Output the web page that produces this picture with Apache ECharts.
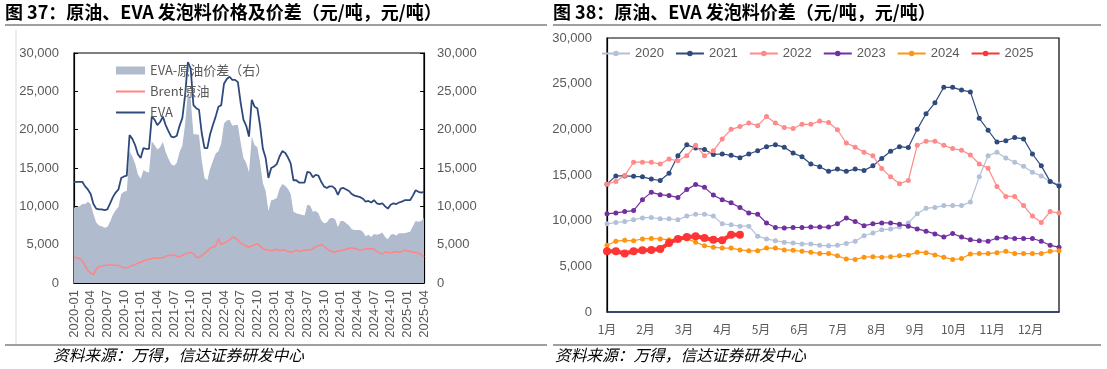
<!DOCTYPE html>
<html><head><meta charset="utf-8">
<script src="https://cdn.jsdelivr.net/npm/echarts@6/dist/echarts.min.js"></script>
<style>html,body{margin:0;padding:0;background:#fff;}#c{width:1107px;height:369px;}</style>
</head><body><div id="c"></div>
<script>
// ---------- Left chart (图 37): semi-monthly points, 2020-01-01 .. 2025-04-16 ----------
const tickLabelsLeft = ['2020-01','2020-04','2020-07','2020-10','2021-01','2021-04','2021-07','2021-10','2022-01','2022-04','2022-07','2022-10','2023-01','2023-04','2023-07','2023-10','2024-01','2024-04','2024-07','2024-10','2025-01','2025-04'];
const evaPrice = [13200,13200,13200,13200,12600,12200,11600,10300,9700,9600,
9600,9500,9600,10400,11200,11800,12200,13700,13900,14000,
19300,18800,18000,16800,16300,17600,17500,17500,21700,21300,
20600,21000,21700,20600,19800,19100,19000,19200,20500,21500,
24500,28800,28000,23200,22800,22600,19500,17600,17600,19400,
20600,21700,23000,23200,26000,26600,26900,26500,26500,26200,
23500,21300,20500,19100,23900,23000,22800,20500,17500,16300,
13700,15000,15200,15500,16500,17200,17000,16400,15600,13400,
13400,13100,13100,13100,14500,14400,13800,14100,14000,13200,
12600,12400,12600,12600,12300,11500,12300,12400,12200,12000,
11600,11400,11300,11200,11000,10600,10700,10500,10800,10400,
10300,10400,10000,9700,10200,10400,10300,10500,10600,10800,
10800,10800,11400,12100,11900,11800,11900];
const brentPrice = [3400,3300,3200,2900,2300,1600,1300,1100,1800,2100,
2200,2300,2300,2400,2300,2300,2300,2100,2000,2000,
2100,2300,2400,2600,2700,2900,3000,3100,3200,3300,
3200,3300,3300,3500,3600,3600,3700,3500,3400,3600,
3800,3900,4000,3800,3400,3300,3600,3900,4200,4500,
4700,4800,5800,5000,5200,5400,5600,6000,5900,5600,
5200,5000,4800,4700,4800,5000,5100,4800,4500,4300,
4300,4200,4300,4400,4200,4300,4300,4100,4000,4100,
4300,4100,4200,4300,4300,4300,4500,4700,4900,5000,
4800,4500,4200,4100,4000,4200,4200,4300,4400,4500,
4600,4500,4400,4300,4300,4500,4400,4500,4400,4100,
3900,3800,4000,4000,3900,4000,4100,4000,4100,4300,
4200,4100,4000,4000,3900,3700,3400];
const spreadValues = [9800,9900,10000,10300,10300,10600,10300,9000,7900,7500,
7400,7200,7300,8000,8900,9500,9900,11600,11900,12000,
17200,16500,15600,14200,13600,14700,14500,14400,18500,18000,
17400,17700,18400,17100,16200,15500,15300,15700,17100,17900,
20700,24900,24000,19400,19400,19300,15900,13700,13400,14900,
15900,16900,17200,18200,20800,21200,21300,20500,20600,20600,
18300,16300,15700,14400,19100,18000,17700,15700,13000,12000,
9400,10800,10900,11100,12300,12900,12700,12300,11600,9300,
9100,9000,8900,8800,10200,10100,9300,9400,9100,8200,
7800,7900,8400,8500,8300,7300,8100,8100,7800,7500,
7000,6900,6900,6900,6700,6100,6300,6000,6400,6300,
6400,6600,6000,5700,6300,6400,6200,6500,6500,6500,
6600,6700,7400,8100,8000,8100,8500];
const dateCats = [];
for (let y = 2020; y <= 2025; y++) for (let m = 1; m <= 12; m++) {
  const mm = (m < 10 ? '0' : '') + m;
  for (const d of ['01', '16']) { if (dateCats.length < evaPrice.length) dateCats.push(y + '-' + mm + '-' + d); }
}

// ---------- Right chart (图 38): weekly points ----------
const monthLabels = ['1月','2月','3月','4月','5月','6月','7月','8月','9月','10月','11月','12月'];
const yearNames = ['2020','2021','2022','2023','2024','2025'];
const y2020 = [9650,9800,9900,10100,10300,10350,10200,10200,10100,10500,10700,10700,10500,9650,9550,9400,9400,8300,8000,7800,7650,7550,7450,7450,7300,7250,7300,7500,7750,8350,8650,9000,9100,9300,9750,10750,11350,11450,11650,11650,11650,12050,14800,17100,17500,16850,16400,15950,15300,14900,14300,13950];
const y2021 = [14000,14900,14900,14850,14800,14550,14400,15200,17100,18300,17950,17800,17250,17300,17150,16900,17300,17650,18100,18300,18050,17400,17000,16200,15900,15400,15650,15400,15650,15500,16000,16800,17600,18100,18000,20000,21700,22900,24600,24600,24300,24100,21200,19900,18600,18750,19100,18950,17300,16000,14300,13800];
const y2022 = [14000,14300,14950,16400,16400,16400,16200,16750,16550,17100,18250,17100,17650,18950,20000,20300,20700,20400,21400,20700,20200,20100,20550,20550,20900,20750,19950,18500,18050,17500,17100,15700,14800,14050,14400,18250,18700,18700,18250,17900,17700,17200,16200,15750,13750,12650,12650,11650,10500,9800,11000,10850];
const y2023 = [10750,10850,11000,11100,12300,13100,12850,12750,12550,13400,13950,13650,12800,12300,11950,11450,10850,10700,9750,9250,9200,9250,9250,9300,9300,9300,9650,10300,9900,9450,9650,9750,9750,9600,9400,9100,8850,8550,8200,8600,8200,7900,7800,7750,8100,8150,8050,8050,8050,7750,7300,7100];
const y2024 = [7300,7750,7850,7800,8000,8050,8000,7900,8000,8000,7650,7250,7100,7000,7000,6800,6700,6700,7000,7000,6800,6750,6650,6550,6400,6400,6150,5800,5750,6000,6050,6000,6050,6150,6200,6550,6500,6250,6000,5750,5850,6350,6400,6400,6500,6650,6400,6400,6400,6400,6650,6700];
const y2025 = [6650,6650,6400,6650,6750,6800,6900,7550,8000,8200,8300,8100,7900,7850,8450,8450];

const WEEKS_PER_MONTH = 4.345;
const yearSeries = [y2020, y2021, y2022, y2023, y2024, y2025];
const yearColors = ['#B3C0D9', '#2F4A7C', '#FF8A8A', '#7030A0', '#FF9410', '#FF3535'];

const numFmt = v => String(v).replace(/\B(?=(\d{3})+(?!\d))/g, ',');
const labelColor = '#595959';
const numFont = '"Liberation Sans", Arial, sans-serif';
const cjkFont = '"Noto Sans CJK SC", sans-serif';

const chart = echarts.init(document.getElementById('c'), null, {renderer: 'canvas'});

const rightSeries = yearSeries.map((arr, k) => ({
  name: yearNames[k], type: 'line', xAxisIndex: 1, yAxisIndex: 2,
  data: arr.map((v, i) => [i, v]),
  symbol: 'circle', symbolSize: k === 5 ? 8 : 5, showSymbol: true,
  lineStyle: {width: k === 5 ? 4 : 1.2, color: yearColors[k]},
  itemStyle: {color: yearColors[k]},
  z: 3 + k, animation: false
}));

chart.setOption({
  animation: false,
  textStyle: {fontFamily: numFont},
  grid: [
    {left: 74, top: 53, width: 350, height: 230, show: true, borderColor: '#000', borderWidth: 1.2, backgroundColor: 'transparent'},
    {left: 607, top: 38, width: 452, height: 274, show: true, borderColor: '#000', borderWidth: 1.2, backgroundColor: 'transparent'}
  ],
  legend: [
    {
      orient: 'vertical', left: 110, top: 59, itemWidth: 29, itemHeight: 8, itemGap: 8,
      textStyle: {fontSize: 13, color: labelColor, fontFamily: cjkFont},
      data: [
        {name: 'EVA-原油价差（右）', icon: 'rect'},
        {name: 'Brent原油', itemStyle: {opacity: 0}},
        {name: 'EVA', itemStyle: {opacity: 0}}
      ]
    },
    {
      orient: 'horizontal', left: 596, top: 42, itemWidth: 28, itemHeight: 7, itemGap: 11,
      textStyle: {fontSize: 13, color: labelColor, fontFamily: numFont},
      data: yearNames
    }
  ],
  xAxis: [
    {
      type: 'category', gridIndex: 0, data: dateCats, boundaryGap: false,
      axisLine: {lineStyle: {color: '#000', width: 1.2}},
      axisTick: {inside: true, length: 4, interval: 5, alignWithLabel: true, lineStyle: {color: '#000'}},
      axisLabel: {
        rotate: 90, interval: (i) => i % 6 === 0, margin: 7, color: labelColor, fontSize: 13, fontFamily: numFont,
        formatter: (v, i) => tickLabelsLeft[i / 6] || v.slice(0, 7)
      },
      splitLine: {show: false}
    },
    {
      type: 'value', gridIndex: 1, min: 0, max: 51, interval: WEEKS_PER_MONTH,
      axisLine: {onZero: false, lineStyle: {color: '#1F3864', width: 1.5}},
      axisTick: {show: false},
      axisLabel: {
        margin: 11, color: labelColor, fontSize: 12, fontFamily: cjkFont, showMaxLabel: false,
        formatter: (v) => {
          const k = Math.round(v / WEEKS_PER_MONTH);
          return Math.abs(v - k * WEEKS_PER_MONTH) < 0.05 && monthLabels[k] ? monthLabels[k] : '';
        }
      },
      splitLine: {show: false}
    }
  ],
  yAxis: [
    {
      type: 'value', gridIndex: 0, min: 0, max: 30000, interval: 5000, position: 'left',
      axisLine: {show: true, lineStyle: {color: '#000', width: 1.2}},
      axisTick: {show: true, inside: true, length: 4, lineStyle: {color: '#000'}},
      axisLabel: {margin: 15, color: labelColor, fontSize: 13, formatter: numFmt},
      splitLine: {show: false}
    },
    {
      type: 'value', gridIndex: 0, min: 0, max: 30000, interval: 5000, position: 'right',
      axisLine: {show: true, lineStyle: {color: '#000', width: 1.2}},
      axisTick: {show: true, inside: true, length: 4, lineStyle: {color: '#000'}},
      axisLabel: {margin: 13, color: labelColor, fontSize: 13, formatter: numFmt},
      splitLine: {show: false}
    },
    {
      type: 'value', gridIndex: 1, min: 0, max: 30000, interval: 5000,
      axisLine: {show: true, lineStyle: {color: '#000', width: 1.2}},
      axisTick: {show: false},
      axisLabel: {margin: 15, color: labelColor, fontSize: 13, formatter: numFmt},
      splitLine: {show: false}
    }
  ],
  series: [
    {
      name: 'EVA-原油价差（右）', type: 'line', xAxisIndex: 0, yAxisIndex: 1, data: spreadValues,
      symbol: 'none', showSymbol: false, lineStyle: {width: 0, color: '#B0BBCD'},
      itemStyle: {color: '#B0BBCD'}, areaStyle: {color: '#B0BBCD', opacity: 1}, z: 1
    },
    {
      name: 'Brent原油', type: 'line', xAxisIndex: 0, yAxisIndex: 0, data: brentPrice,
      symbol: 'none', showSymbol: false, lineStyle: {width: 1.5, color: '#FF8585'}, itemStyle: {color: '#FF8585'}, z: 2
    },
    {
      name: 'EVA', type: 'line', xAxisIndex: 0, yAxisIndex: 0, data: evaPrice,
      symbol: 'none', showSymbol: false, lineStyle: {width: 1.8, color: '#2E4A7D'}, itemStyle: {color: '#2E4A7D'}, z: 3
    }
  ].concat(rightSeries),
  graphic: [
    {type: 'text', left: 5, top: 3, style: {text: '图 37：原油、EVA 发泡料价格及价差（元/吨，元/吨）', font: 'bold 18px ' + cjkFont, fill: '#000'}},
    {type: 'text', left: 553, top: 3, style: {text: '图 38：原油、EVA 发泡料价差（元/吨，元/吨）', font: 'bold 18px ' + cjkFont, fill: '#000'}},
    {type: 'line', shape: {x1: 5, y1: 25, x2: 547, y2: 25}, style: {stroke: '#7F7F7F', lineWidth: 1.5}},
    {type: 'line', shape: {x1: 553, y1: 25, x2: 1101, y2: 25}, style: {stroke: '#7F7F7F', lineWidth: 1.5}},
    {type: 'line', shape: {x1: 16, y1: 30, x2: 16, y2: 345}, style: {stroke: '#D9D9D9', lineWidth: 1}},
    {type: 'line', shape: {x1: 5, y1: 345, x2: 547, y2: 345}, style: {stroke: '#7F7F7F', lineWidth: 1.5}},
    {type: 'line', shape: {x1: 553, y1: 345, x2: 1101, y2: 345}, style: {stroke: '#7F7F7F', lineWidth: 1.5}},
    {type: 'text', left: 53, top: 347, style: {text: '资料来源：万得，信达证券研发中心', font: 'italic 15.7px ' + cjkFont, fill: '#000'}},
    {type: 'text', left: 555, top: 347, style: {text: '资料来源：万得，信达证券研发中心', font: 'italic 15.7px ' + cjkFont, fill: '#000'}}
  ]
});
</script>
</body></html>
